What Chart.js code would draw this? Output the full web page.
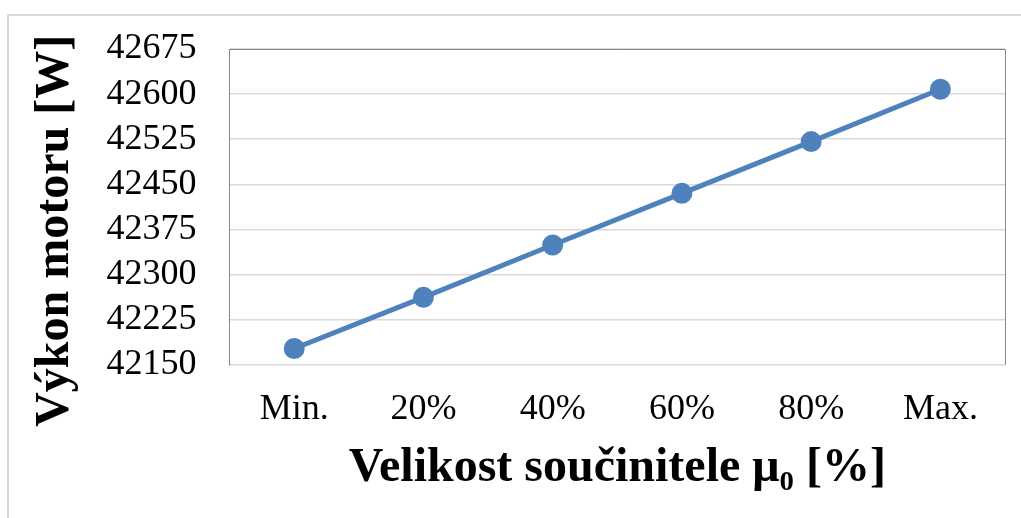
<!DOCTYPE html>
<html>
<head>
<meta charset="utf-8">
<script src="https://cdn.jsdelivr.net/npm/chart.js@4/dist/chart.umd.min.js"></script>
<style>
  html, body { margin: 0; padding: 0; background: #fff; }
  #wrap { width: 1021px; height: 518px; }
</style>
</head>
<body>
<div id="wrap"><canvas id="chart" width="1021" height="518"></canvas></div>
<script>
const labels = ['Min.', '20%', '40%', '60%', '80%', 'Max.']
const power = [42177, 42262, 42349, 42435, 42521, 42608]

const yMin = 42150
const yMax = 42675
const yStep = 75

const serif = "'Liberation Serif', 'Times New Roman', serif"

// gray frame round the plot (top and right) and the light outer border
const frame = {
  id: 'frame',
  beforeDraw(chart) {
    const ctx = chart.ctx
    ctx.save()
    ctx.strokeStyle = '#d9d9d9'
    ctx.lineWidth = 2
    ctx.beginPath()
    ctx.moveTo(8, chart.height)
    ctx.lineTo(8, 15)
    ctx.lineTo(chart.width, 15)
    ctx.stroke()
    ctx.restore()
  },
  beforeDatasetsDraw(chart) {
    const { left, top, right, bottom } = chart.chartArea
    const ctx = chart.ctx
    ctx.save()
    ctx.strokeStyle = '#868686'
    ctx.lineWidth = 1
    ctx.beginPath()
    ctx.moveTo(left, top + 0.5)
    ctx.lineTo(right + 0.5, top + 0.5)
    ctx.lineTo(right + 0.5, bottom)
    ctx.stroke()
    ctx.restore()
  }
}

const config = {
  type: 'line',
  data: {
    labels: labels,
    datasets: [{
      data: power,
      borderColor: '#4f81bd',
      backgroundColor: '#4f81bd',
      borderWidth: 5,
      pointRadius: 8,
      pointHoverRadius: 8,
      tension: 0
    }]
  },
  options: {
    responsive: false,
    animation: false,
    layout: {
      padding: { left: 27, top: 49, right: 16, bottom: 20 }
    },
    plugins: {
      legend: { display: false },
      tooltip: { enabled: false }
    },
    scales: {
      x: {
        offset: true,
        grid: { display: false, drawTicks: false },
        border: { display: false },
        ticks: {
          color: '#000',
          padding: 23,
          autoSkip: false,
          maxRotation: 0,
          font: { family: serif, size: 36 }
        },
        title: {
          display: true,
          text: 'Velikost součinitele μ₀ [%]',
          color: '#000',
          padding: { top: -14.5, bottom: 1 },
          font: { family: serif, size: 48, weight: 'bold' }
        }
      },
      y: {
        min: yMin,
        max: yMax,
        grid: { color: '#d9d9d9', lineWidth: 1.5, drawTicks: false },
        border: { display: true, color: '#868686', width: 1 },
        ticks: {
          stepSize: yStep,
          autoSkip: false,
          color: '#000',
          padding: 33,
          // small lineHeight keeps the top label overhang inside the layout padding
          font: { family: serif, size: 36, lineHeight: 0.8 },
          callback: v => String(v)
        },
        title: {
          display: true,
          text: 'Výkon motoru [W]    ',
          color: '#000',
          padding: { top: 0, bottom: -11 },
          font: { family: serif, size: 48, weight: 'bold' }
        }
      }
    }
  },
  plugins: [frame]
}

new Chart(document.getElementById('chart'), config)
</script>
</body>
</html>
